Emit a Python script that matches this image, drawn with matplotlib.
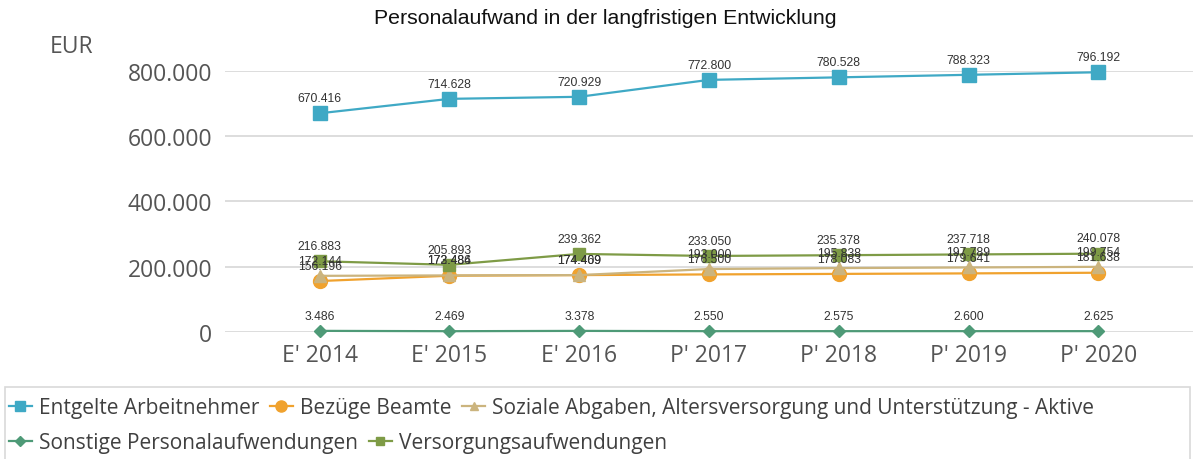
import numpy as np
import matplotlib
matplotlib.use('Agg')
import matplotlib.pyplot as plt
from matplotlib.lines import Line2D
from matplotlib.patches import Rectangle

years = ["E' 2014", "E' 2015", "E' 2016", "P' 2017", "P' 2018", "P' 2019", "P' 2020"]
entgelte = [670416, 714628, 720929, 772800, 780528, 788323, 796192]
bezuege = [156196, 172486, 174409, 176500, 178083, 179641, 181638]
soziale = [172144, 173484, 174469, 193000, 195838, 197789, 199754]
sonstige = [3486, 2469, 3378, 2550, 2575, 2600, 2625]
versorgung = [216883, 205893, 239362, 233050, 235378, 237718, 240078]
yticks = [0, 200000, 400000, 600000, 800000]

series = [
    ('Entgelte Arbeitnehmer', entgelte, '#3FA9C5', 's', 9.5),
    ('Bezüge Beamte', bezuege, '#F0A22E', 'o', 10),
    ('Soziale Abgaben, Altersversorgung und Unterstützung - Aktive', soziale, '#CBB47E', '^', 8),
    ('Sonstige Personalaufwendungen', sonstige, '#4E9A77', 'D', 6),
    ('Versorgungsaufwendungen', versorgung, '#7E9B46', 's', 8),
]

def fmt(v):
    return '{:,}'.format(int(v)).replace(',', '.')

fig = plt.figure(figsize=(11.95, 4.6), dpi=100)
W, H = 1195, 460
ax = fig.add_axes([225 / W, 1 - 333 / H, (1193 - 225) / W, (333 - 72) / H])
x = np.arange(len(years))

handles = []
for name, vals, col, mk, ms in series:
    ax.plot(x, vals, color=col, lw=1.6, marker=mk, markersize=ms, clip_on=False, zorder=3)
    handles.append(Line2D([], [], color=col, lw=1.6, marker=mk, markersize=ms * 0.8, label=name))

for name, vals, col, mk, ms in series:
    for i, v in enumerate(vals):
        ax.annotate(fmt(v), xy=(i, v), xytext=(0, 11), textcoords='offset points',
                    ha='center', va='center', fontsize=8.7, color='#333333',
                    family='Liberation Sans', zorder=5)

ax.set_xlim(-0.73, 6.73)
ax.set_ylim(0, 800000)
ax.set_yticks(yticks)
ax.set_yticklabels([fmt(t) for t in yticks])
ax.set_xticks(x)
ax.set_xticklabels(years)
for s in ax.spines.values():
    s.set_visible(False)
ax.tick_params(length=0, labelsize=16.5, labelcolor='#555555')
ax.tick_params(axis='y', pad=9)
ax.tick_params(axis='x', pad=8)
for lab in ax.get_xticklabels() + ax.get_yticklabels():
    lab.set_family('Open Sans')
ax.grid(axis='y', color='#DADADA', lw=1.3)
ax.set_axisbelow(True)

fig.text(605 / W, 1 - 18 / H, 'Personalaufwand in der langfristigen Entwicklung',
         ha='center', va='center', fontsize=15.3, family='Liberation Sans', color='#111111')
fig.text(72 / W, 1 - 47 / H, 'EUR', ha='center', va='center', fontsize=16.5,
         family='Open Sans', color='#555555')

# legend frame
fig.patches.append(Rectangle((5 / W, -0.01), (1190 - 5) / W, (460 - 388) / H + 0.01,
                             transform=fig.transFigure, fill=False, ec='#D9D9D9', lw=1.2))
leg_kw = dict(frameon=False, handlelength=1.1, handletextpad=0.35, columnspacing=0.5,
              prop={'family': 'Open Sans', 'size': 15}, labelcolor='#404040',
              borderaxespad=0, borderpad=0)
fig.legend(handles=handles[:3], ncol=3, loc='center left',
           bbox_to_anchor=(9 / W, 1 - 409 / H), **leg_kw)
fig.legend(handles=handles[3:], ncol=2, loc='center left',
           bbox_to_anchor=(9 / W, 1 - 444 / H), **leg_kw)

fig.savefig('out.png', dpi=100)
